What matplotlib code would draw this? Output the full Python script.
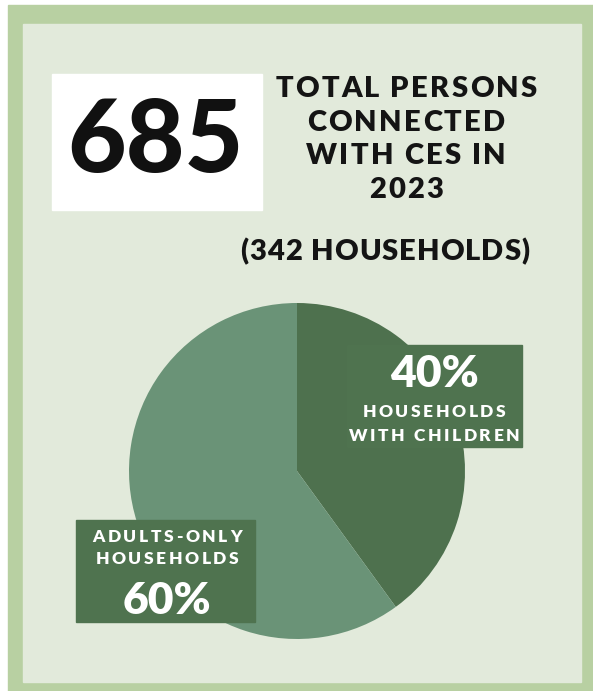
import matplotlib.pyplot as plt
from matplotlib.patches import Rectangle
from matplotlib import font_manager
from matplotlib.ft2font import FT2Font

# Data
total_persons = 685
households = 342
year = 2023
shares = [40, 60]
labels = [["HOUSEHOLDS", "WITH CHILDREN"], ["ADULTS-ONLY", "HOUSEHOLDS"]]
slice_colors = ["#4e714e", "#6a9377"]

W, H = 593, 691
border = "#b8d0a2"
panel = "#e2eadb"
box_green = "#4f734f"
font = "Lato"


def Y(y):
	# image pixel row -> data coordinate (y up)
	return H - y


def spaced_text(ax, x, y, s, size, tracking, weight="heavy", color="white", zorder=4):
	# draw text centred at x with extra letter spacing (pixels)
	prop = font_manager.FontProperties(family=font, weight=weight)
	ft = FT2Font(font_manager.findfont(prop))
	ft.set_size(size, 100)
	adv = [ft.load_char(ord(c)).linearHoriAdvance / 65536 for c in s]
	total = sum(adv) + tracking * (len(s) - 1)
	cx = x - total / 2
	for c, a in zip(s, adv):
		if c != " ":
			ax.text(cx + a / 2, y, c, fontsize=size, fontweight=weight, family=font,
					ha="center", va="center", color=color, zorder=zorder)
		cx += a + tracking


fig = plt.figure(figsize=(W / 100, H / 100), dpi=100, facecolor="white")
ax = fig.add_axes([0, 0, 1, 1])
ax.set_xlim(0, W)
ax.set_ylim(0, H)
ax.axis("off")

# Frame and panel
ax.add_patch(Rectangle((8, 0), W - 8, Y(5), color=border, zorder=0))
ax.add_patch(Rectangle((23, Y(682)), 581 - 23, 682 - 24, color=panel, zorder=0))

# Big number box
ax.add_patch(Rectangle((52, Y(210)), 210, 136, color="white", zorder=1))
ax.text(155, Y(143), str(total_persons), fontsize=73, fontweight="black", family=font,
		ha="center", va="center", color="#111111", zorder=2)

title_lines = ["TOTAL PERSONS", "CONNECTED", "WITH CES IN", str(year)]
for i, line in enumerate(title_lines):
	spaced_text(ax, 406, Y(89 + i * 33.5), line, 21, 2.2, color="#141414", zorder=2)
spaced_text(ax, 385, Y(252), "(" + str(households) + " HOUSEHOLDS)", 21, 1.0,
			color="#141414", zorder=2)

# Pie
ax.pie(shares, colors=slice_colors, startangle=90, counterclock=False,
	   center=(297, Y(471)), radius=168, frame=True,
	   wedgeprops=dict(linewidth=0))
ax.set_xlim(0, W)
ax.set_ylim(0, H)
ax.set_aspect("auto")
ax.axis("off")

# Label boxes
ax.add_patch(Rectangle((347, Y(447)), 175, 102, color=box_green, zorder=3))
ax.text(434, Y(374), str(shares[0]) + "%", fontsize=32, fontweight="heavy", family=font,
		ha="center", va="center", color="white", zorder=4)
spaced_text(ax, 434, Y(412), labels[0][0], 12.5, 2.6)
spaced_text(ax, 434, Y(436), labels[0][1], 12.5, 2.6)

ax.add_patch(Rectangle((76, Y(622)), 179, 102, color=box_green, zorder=3))
spaced_text(ax, 167, Y(537), labels[1][0], 12.5, 2.6)
spaced_text(ax, 167, Y(559), labels[1][1], 12.5, 2.6)
ax.text(167, Y(601), str(shares[1]) + "%", fontsize=32, fontweight="heavy", family=font,
		ha="center", va="center", color="white", zorder=4)

fig.savefig("out.png", dpi=100, facecolor="white")
